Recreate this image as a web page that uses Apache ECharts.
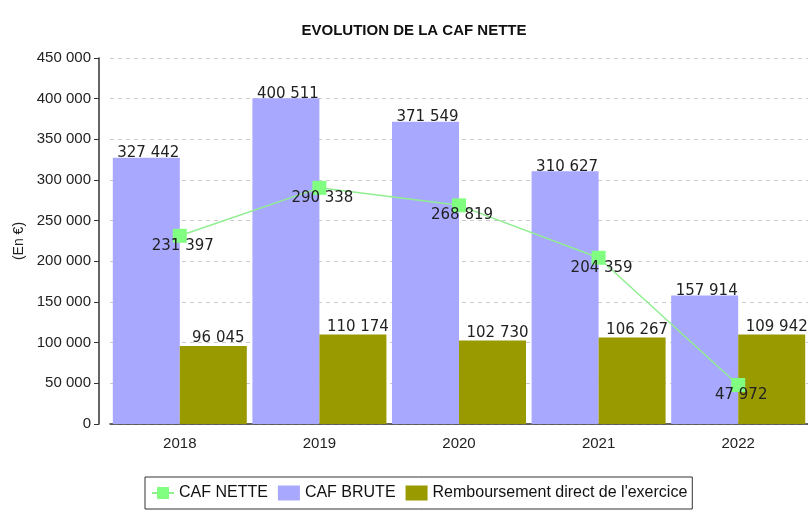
<!DOCTYPE html>
<html>
<head>
<meta charset="utf-8">
<script src="https://cdn.jsdelivr.net/npm/echarts@6/dist/echarts.min.js"></script>
<style>
  html, body { margin: 0; padding: 0; background: #fff; }
  #chart { width: 808px; height: 514px; }
</style>
</head>
<body>
<div id="chart"></div>
<script>
var years = ['2018', '2019', '2020', '2021', '2022'];
var cafNette = [231397, 290338, 268819, 204359, 47972];
var cafBrute = [327442, 400511, 371549, 310627, 157914];
var remboursement = [96045, 110174, 102730, 106267, 109942];

function fmt(v) {
  return String(v).replace(/\B(?=(\d{3})+(?!\d))/g, ' ');
}

var labelFont = {
  fontFamily: 'DejaVu Sans',
  fontSize: 15,
  color: '#222'
};

var chart = echarts.init(document.getElementById('chart'));
chart.setOption({
  animation: false,
  title: {
    text: 'EVOLUTION DE LA CAF NETTE',
    left: 409,
    textAlign: 'center',
    top: 18,
    textStyle: {
      fontFamily: 'Liberation Sans',
      fontSize: 15,
      fontWeight: 'bold',
      color: '#111'
    }
  },
  legend: {
    left: 145,
    top: 477,
    borderColor: '#333',
    borderWidth: 1,
    padding: [8, 5, 8, 6],
    itemGap: 10,
    itemWidth: 22,
    itemHeight: 15,
    textStyle: {
      fontFamily: 'Liberation Sans',
      fontSize: 16,
      color: '#111'
    },
    data: [
      { name: 'CAF NETTE' },
      { name: 'CAF BRUTE', icon: 'rect' },
      { name: 'Remboursement direct de l\'exercice', icon: 'rect' }
    ]
  },
  grid: {
    left: 110,
    right: 0,
    top: 58,
    bottom: 90
  },
  xAxis: {
    type: 'category',
    data: years,
    axisTick: { show: false },
    axisLine: { lineStyle: { color: '#333', width: 1.5 } },
    axisLabel: {
      margin: 12,
      fontFamily: 'Liberation Sans',
      fontSize: 15,
      color: '#222'
    }
  },
  yAxis: {
    type: 'value',
    min: 0,
    max: 450000,
    interval: 50000,
    offset: 11,
    name: '(En €)',
    nameLocation: 'middle',
    nameGap: 73,
    nameTextStyle: {
      fontFamily: 'Liberation Sans',
      fontSize: 14,
      color: '#222'
    },
    axisLine: { show: true, lineStyle: { color: '#333', width: 1.5 } },
    axisTick: { show: true, length: 5, lineStyle: { color: '#333' } },
    splitLine: { lineStyle: { color: '#ccc', type: [4, 4] } },
    axisLabel: {
      margin: 8,
      fontFamily: 'Liberation Sans',
      fontSize: 15,
      color: '#222',
      formatter: fmt
    }
  },
  series: [
    {
      name: 'CAF NETTE',
      type: 'line',
      data: cafNette,
      z: 5,
      symbol: 'rect',
      symbolSize: 14,
      itemStyle: { color: '#80ff80' },
      lineStyle: { color: '#90ee90', width: 1.5 },
      label: Object.assign({
        show: true,
        position: 'inside',
        offset: [3, 10],
        formatter: function (p) { return fmt(p.value); }
      }, labelFont)
    },
    {
      name: 'CAF BRUTE',
      type: 'bar',
      data: cafBrute,
      barGap: '0%',
      barCategoryGap: '4%',
      itemStyle: { color: '#a8a8ff' },
      label: Object.assign({
        show: true,
        position: 'top',
        distance: 0,
        offset: [2, 3],
        formatter: function (p) { return fmt(p.value); }
      }, labelFont)
    },
    {
      name: 'Remboursement direct de l\'exercice',
      type: 'bar',
      data: remboursement,
      itemStyle: { color: '#999900' },
      label: Object.assign({
        show: true,
        position: 'top',
        distance: 0,
        offset: [5, 0],
        formatter: function (p) { return fmt(p.value); }
      }, labelFont)
    }
  ]
});
</script>
</body>
</html>
